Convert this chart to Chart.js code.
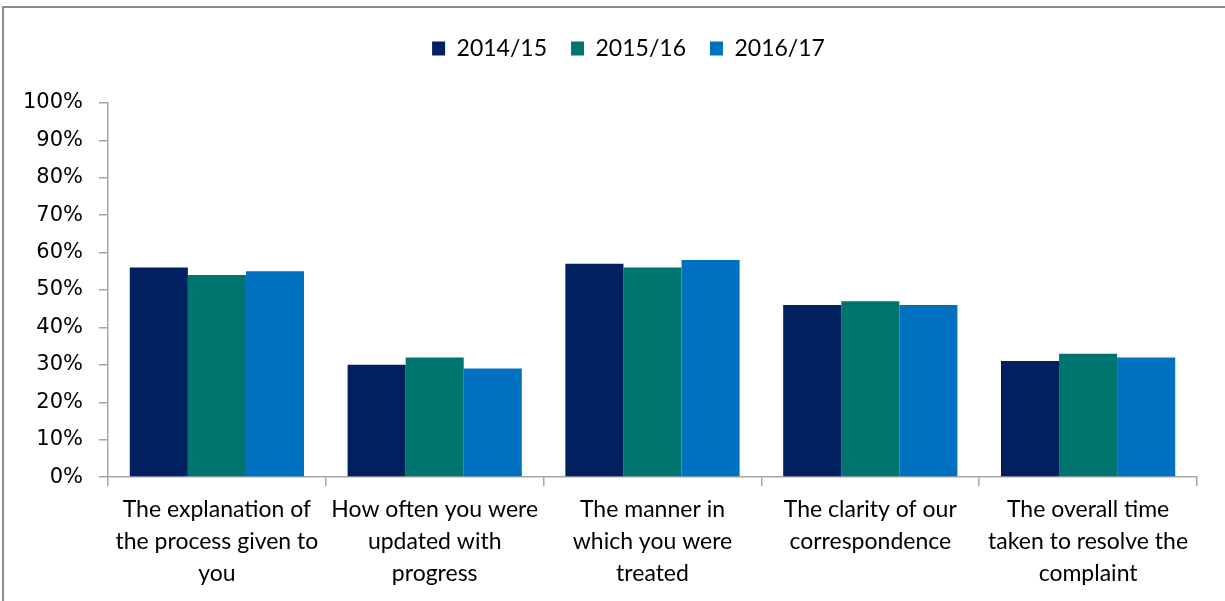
<!DOCTYPE html>
<html lang="en">
<head>
  <meta charset="UTF-8">
  <title>Complaint satisfaction</title>
  <script src="https://cdn.jsdelivr.net/npm/chart.js"></script>
  <style>
    html, body { margin: 0; padding: 0; background: #fff; overflow: hidden; }
    #wrap { position: relative; width: 1225px; height: 601px; }
    #frame { position: absolute; left: 2px; top: 6px; width: 1240px; height: 620px;
             border: 2px solid #8c8c8c; pointer-events: none; }
  </style>
</head>
<body>
  <div id="wrap">
    <canvas id="grafik" width="1225" height="601"></canvas>
    <div id="frame"></div>
  </div>

  <script>
    const categories = [
      ["The explanation of", "the process given to", "you"],
      ["How often you were", "updated with", "progress"],
      ["The manner in", "which you were", "treated"],
      ["The clarity of our", "correspondence"],
      ["The overall time", "taken to resolve the", "complaint"]
    ];
    const years = ["2014/15", "2015/16", "2016/17"];
    const v2014 = [56, 30, 57, 46, 31];
    const v2015 = [54, 32, 56, 47, 33];
    const v2016 = [55, 29, 58, 46, 32];
    const colours = ["#00205F", "#00746F", "#0070C0"];
    const yTicks = [0, 10, 20, 30, 40, 50, 60, 70, 80, 90, 100];

    const axisGrey = "#a6a6a6";
    const catFont = "Lato, 'Open Sans', sans-serif";

    // push the plot area down below the legend, and nudge the legend right
    const legendGap = {
      id: "legendGap",
      beforeInit(chart) {
        const fit = chart.legend.fit;
        chart.legend.fit = function () {
          fit.bind(chart.legend)();
          this.height += 33;
        };
      },
      afterLayout(chart) {
        chart.legend.left += 21;
        chart.legend.right += 21;
      }
    };

    new Chart(document.getElementById("grafik"), {
      type: "bar",
      data: {
        labels: categories,
        datasets: [v2014, v2015, v2016].map((d, i) => ({
          label: years[i],
          data: d,
          backgroundColor: colours[i],
          borderWidth: 0,
          categoryPercentage: 0.8,
          barPercentage: 1.0
        }))
      },
      options: {
        responsive: false,
        animation: false,
        layout: { padding: { left: 18, right: 28, top: 13, bottom: 3 } },
        plugins: {
          legend: {
            position: "top",
            labels: {
              boxWidth: 13, boxHeight: 14, padding: 24,
              color: "#000",
              font: { family: catFont, size: 23 }
            }
          },
          tooltip: { enabled: false }
        },
        scales: {
          x: {
            grid: { display: true, drawOnChartArea: false, color: axisGrey, lineWidth: 1.5, tickLength: 9, offset: true },
            border: { color: axisGrey, width: 1.5 },
            ticks: {
              color: "#000", padding: 8, maxRotation: 0, autoSkip: false,
              font: { family: catFont, size: 23, lineHeight: 1.39 }
            }
          },
          y: {
            min: 0, max: 100,
            afterBuildTicks(axis) { axis.ticks = yTicks.map(v => ({ value: v })); },
            afterFit(axis) { axis.width = 90; },
            grid: { display: true, drawOnChartArea: false, color: axisGrey, lineWidth: 1.5, tickLength: 9 },
            border: { color: axisGrey, width: 1.5 },
            ticks: {
              color: "#000", padding: 16,
              font: { family: "'DejaVu Sans', Verdana, sans-serif", size: 21 },
              callback: v => v + "%"
            }
          }
        }
      },
      plugins: [legendGap]
    });
  </script>
</body>
</html>
